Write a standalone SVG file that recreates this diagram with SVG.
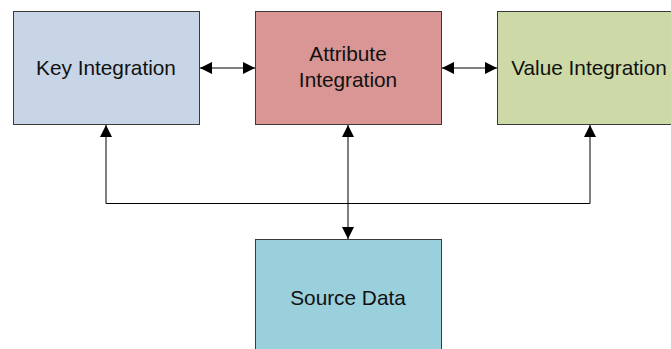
<svg xmlns="http://www.w3.org/2000/svg" width="671" height="349" viewBox="0 0 671 349">
<defs>
<style>
.box{stroke:#3a3a3a;stroke-width:1}
.lbl{font-family:"Liberation Sans",Arial,sans-serif;font-size:20.8px;fill:#111;text-anchor:middle}
.ln{stroke:#000;stroke-width:1;fill:none}
</style>
<marker id="ah" viewBox="0 0 12 12" refX="12" refY="6" markerWidth="12" markerHeight="12" markerUnits="userSpaceOnUse" orient="auto-start-reverse">
<path d="M0,0 L12,6 L0,12 Z" fill="#000"/>
</marker>
</defs>
<rect width="671" height="349" fill="#fff"/>
<g id="key">
<rect class="box" x="13.5" y="11.5" width="186" height="113" fill="#c8d5e6"/>
<text class="lbl" x="106" y="74.5">Key Integration</text>
</g>
<g id="attribute">
<rect class="box" x="255.5" y="11.5" width="186" height="113" fill="#d99694"/>
<text class="lbl" x="348" y="61">Attribute</text>
<text class="lbl" x="348" y="86.5">Integration</text>
</g>
<g id="value">
<rect class="box" x="497.5" y="11.5" width="186" height="113" fill="#cdd9a7"/>
<text class="lbl" x="589" y="74.5">Value Integration</text>
</g>
<g id="source">
<rect class="box" x="255.5" y="239.5" width="186" height="120" fill="#9acfdc"/>
<text class="lbl" x="348" y="304.5">Source Data</text>
</g>
<g id="connectors">
<line class="ln" x1="200" y1="68" x2="255" y2="68" marker-start="url(#ah)" marker-end="url(#ah)"/>
<line class="ln" x1="442" y1="68" x2="497" y2="68" marker-start="url(#ah)" marker-end="url(#ah)"/>
<line class="ln" x1="348" y1="125" x2="348" y2="239" marker-start="url(#ah)" marker-end="url(#ah)"/>
<polyline class="ln" points="106,125 106,203.5 590,203.5 590,125" marker-start="url(#ah)" marker-end="url(#ah)"/>
</g>
</svg>
